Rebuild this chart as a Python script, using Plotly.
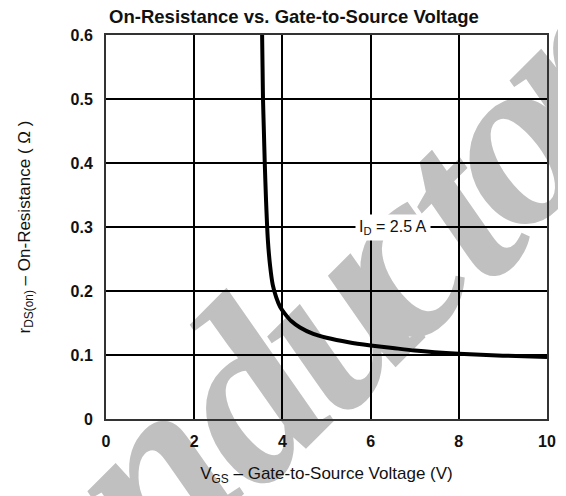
import plotly.graph_objects as go

# Data
vgs = [3.54, 3.55, 3.56, 3.58, 3.60, 3.63, 3.67, 3.72, 3.78, 3.86, 3.95, 4.05,
       4.2, 4.4, 4.7, 5.0, 5.5, 6.0, 6.5, 7.0, 8.0, 9.0, 10.0]
rds_on = [0.60, 0.55, 0.50, 0.45, 0.40, 0.34, 0.28, 0.24, 0.21, 0.19, 0.175, 0.165,
          0.153, 0.143, 0.133, 0.127, 0.120, 0.115, 0.111, 0.107, 0.102, 0.099, 0.097]
x_ticks = [0, 2, 4, 6, 8, 10]
y_ticks = [0, 0.1, 0.2, 0.3, 0.4, 0.5, 0.6]
y_tick_labels = ["0", "0.1", "0.2", "0.3", "0.4", "0.5", "0.6"]
watermark_letters = ["n", "d", "u", "c", "t", "o", "r"]

FONT = "Liberation Sans, Arial, sans-serif"
# page body has an 8px margin; figure is sized so it ends at the window edge
OFF = 8
W, H = 566 - OFF, 496 - OFF
L, R, T, B = 106 - OFF, 19, 35 - OFF, 77

fig = go.Figure()
fig.add_trace(go.Scatter(x=vgs, y=rds_on, mode="lines",
                         line=dict(color="black", width=4, shape="spline", smoothing=0.6),
                         showlegend=False, hoverinfo="skip"))

fig.update_layout(
    width=W, height=H,
    margin=dict(l=L, r=R, t=T, b=B, autoexpand=False),
    paper_bgcolor="white",
    plot_bgcolor="rgba(0,0,0,0)",
    font=dict(family=FONT, color="#111"),
    title=dict(text="<b>On-Resistance vs. Gate-to-Source Voltage</b>",
               x=(294 - OFF) / W, xanchor="center", y=1 - (17 - OFF) / H, yanchor="middle",
               yref="container", font=dict(size=18.5, family=FONT, color="#111")),
    xaxis=dict(range=[0, 10], tickvals=x_ticks, ticktext=[str(v) for v in x_ticks],
               showgrid=True, gridcolor="black", gridwidth=1.5,
               zeroline=False, showline=True, linecolor="#333", linewidth=2, mirror=True,
               ticks="", ticklabelstandoff=7,
               tickfont=dict(size=16, family=FONT, color="#111", weight="bold"),
               title=dict(text="V<sub>GS</sub> – Gate-to-Source Voltage (V)",
                          font=dict(size=17, family=FONT, color="#111"), standoff=18)),
    yaxis=dict(range=[0, 0.6], tickvals=y_ticks, ticktext=y_tick_labels,
               showgrid=True, gridcolor="black", gridwidth=1.5,
               zeroline=False, showline=True, linecolor="#333", linewidth=2, mirror=True,
               ticks="", ticklabelstandoff=8,
               tickfont=dict(size=16, family=FONT, color="#111", weight="bold"),
               title=dict(text="r<sub>DS(on)</sub> – On-Resistance ( Ω )",
                          font=dict(size=17, family=FONT, color="#111"), standoff=36)),
)

fig.add_annotation(x=6.5, y=0.3, xref="x", yref="y", text="I<sub>D</sub> = 2.5 A",
                   showarrow=False, bgcolor="white", borderpad=3,
                   font=dict(size=16, family=FONT, color="#111"))

# Watermark (decoration), drawn below the grid, one letter at a time
pw = W - L - R
ph = H - T - B
wm_pos = [(128, 455), (224, 376), (310, 298), (372, 238), (434, 188), (487, 122), (538, 56)]
for ch, (cx, cy) in zip(watermark_letters, wm_pos):
    px = (cx - OFF - L) / pw
    py = (H - B - (cy - OFF)) / ph
    fig.add_shape(type="rect", xref="paper", yref="paper",
                  x0=px - 0.005, x1=px + 0.005, y0=py - 0.005, y1=py + 0.005,
                  line=dict(width=0), fillcolor="rgba(0,0,0,0)", layer="below",
                  label=dict(text=ch, textangle=-45, textposition="middle center",
                             font=dict(size=245, family="Liberation Serif, serif",
                                       color="#c0c0c0", weight="bold", style="italic")))

fig.write_html("out.html")
